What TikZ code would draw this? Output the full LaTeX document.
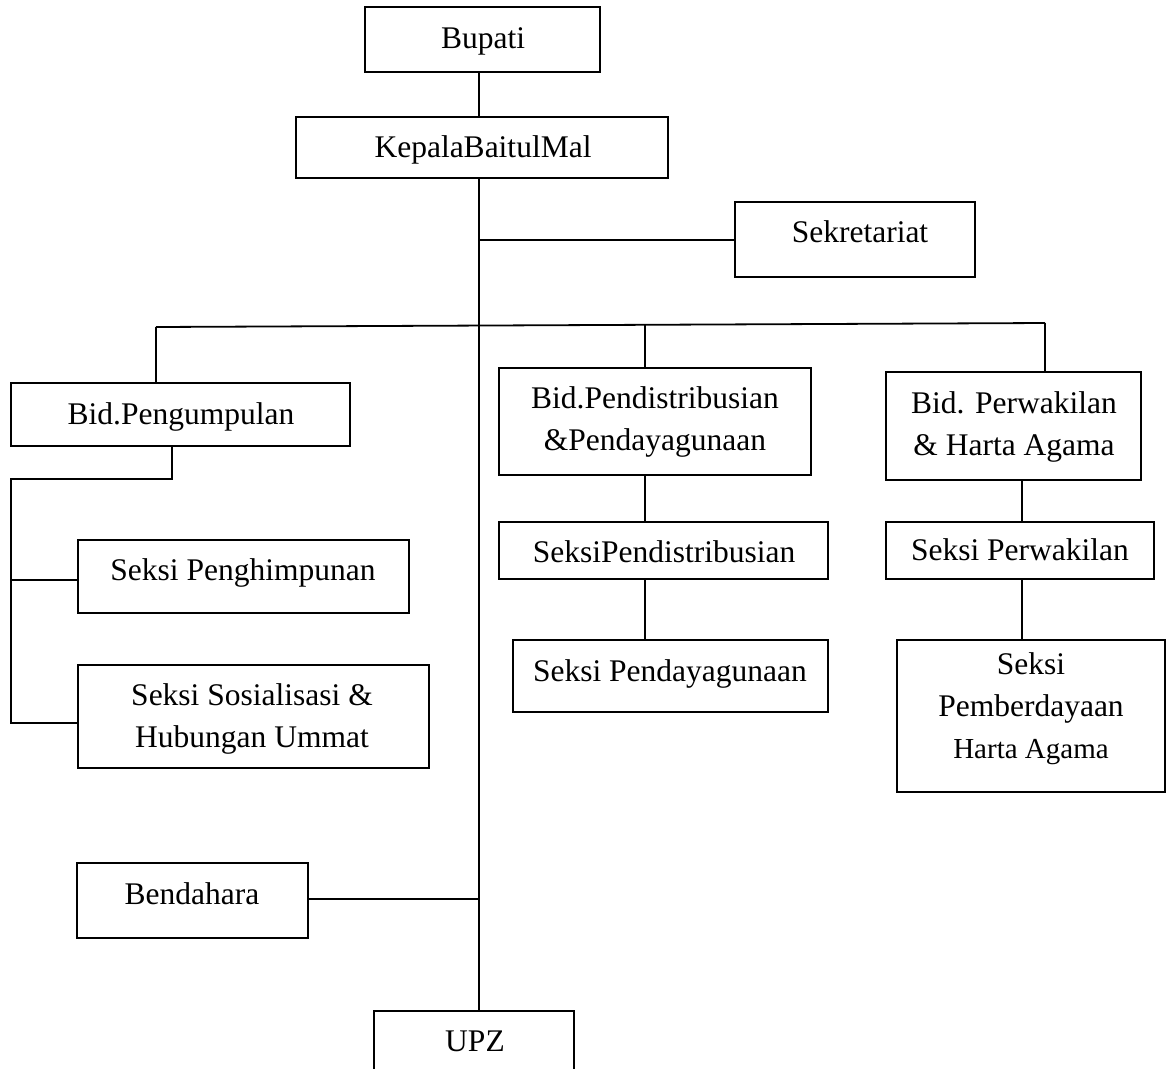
\documentclass[tikz,border=0pt]{standalone}
\usepackage{fontspec}
\setmainfont{Liberation Serif}
\begin{document}
\begin{tikzpicture}[x=1pt,y=-1pt,
  box/.style={draw, line width=2pt, inner sep=0pt, outer sep=0pt, anchor=north west},
  lbl/.style={anchor=base, inner sep=0pt, outer sep=0pt, align=center, font=\fontsize{31.5}{42}\selectfont},
  conn/.style={line width=1.8pt}]
\useasboundingbox (0,0) rectangle (1171,1069);

% boxes
\node[box, minimum width=235pt, minimum height=65pt] (bupati) at (365,7) {};
\node[box, minimum width=372pt, minimum height=61pt] (kepala) at (296,117) {};
\node[box, minimum width=240pt, minimum height=75pt] (sekret) at (735,202) {};
\node[box, minimum width=339pt, minimum height=63pt] (bidpeng) at (11,383) {};
\node[box, minimum width=312pt, minimum height=107pt] (bidpend) at (499,368) {};
\node[box, minimum width=255pt, minimum height=108pt] (bidperw) at (886,372) {};
\node[box, minimum width=331pt, minimum height=73pt] (shimp) at (78,540) {};
\node[box, minimum width=351pt, minimum height=103pt] (ssos) at (78,665) {};
\node[box, minimum width=329pt, minimum height=57pt] (spend) at (499,522) {};
\node[box, minimum width=315pt, minimum height=72pt] (sdaya) at (513,640) {};
\node[box, minimum width=268pt, minimum height=57pt] (sperw) at (886,522) {};
\node[box, minimum width=268pt, minimum height=152pt] (sberd) at (897,640) {};
\node[box, minimum width=231pt, minimum height=75pt] (bend) at (77,863) {};
\node[box, minimum width=200pt, minimum height=90pt] (upz) at (374,1011) {};

% texts (anchor base = baseline of the last line)
\node[lbl] (tbupati) at (483,48) {Bupati};
\node[lbl] (tkepala) at (483,157) {KepalaBaitulMal};
\node[lbl] (tsekret) at (860,242) {Sekretariat};
\node[lbl] (tbidpeng) at (181,424) {Bid.Pengumpulan};
\node[lbl] (tbidpend) at (655,450) {Bid.Pendistribusian\\\&Pendayagunaan};
\node[lbl] (tbidperw) at (1014,455) {Bid. Perwakilan\\\& Harta Agama};
\node[lbl] (tshimp) at (243,580) {Seksi Penghimpunan};
\node[lbl] (tssos) at (252,747) {Seksi Sosialisasi \&\\Hubungan Ummat};
\node[lbl] (tspend) at (664,562) {SeksiPendistribusian};
\node[lbl] (tsdaya) at (670,681) {Seksi Pendayagunaan};
\node[lbl] (tsperw) at (1020,560) {Seksi Perwakilan};
\node[lbl] (tsberd) at (1031,758) {Seksi\\Pemberdayaan\\{\fontsize{29}{40}\selectfont Harta Agama}};
\node[lbl] (tbend) at (192,904) {Bendahara};
\node[lbl] (tupz) at (475,1051) {UPZ};

% connector points
\coordinate (m1) at (479,240);
\coordinate (busL) at (156,327);
\coordinate (busR) at (1045,323);
\coordinate (busM) at (645,324.5);
\coordinate (pg1) at (172,479);
\coordinate (pg2) at (11,479);
\coordinate (pg3) at (11,723);
\coordinate (pgh) at (11,580);
\coordinate (mb) at (479,899);
\coordinate (pw) at (1022,0);

% connectors
\draw[conn] (bupati.south -| m1) -- (kepala.north -| m1);
\draw[conn] (kepala.south -| m1) -- (upz.north -| m1);
\draw[conn] (m1) -- (sekret.west |- m1);
\draw[conn] (busL) -- (busR);
\draw[conn] (busL) -- (bidpeng.north -| busL);
\draw[conn] (busM) -- (bidpend.north -| busM);
\draw[conn] (busR) -- (bidperw.north -| busR);
\draw[conn] (bidpeng.south -| pg1) -- (pg1) -- (pg2) -- (pg3) -- (ssos.west |- pg3);
\draw[conn] (pgh) -- (shimp.west |- pgh);
\draw[conn] (bidpend.south -| busM) -- (spend.north -| busM);
\draw[conn] (spend.south -| busM) -- (sdaya.north -| busM);
\draw[conn] (bidperw.south -| pw) -- (sperw.north -| pw);
\draw[conn] (sperw.south -| pw) -- (sberd.north -| pw);
\draw[conn] (bend.east |- mb) -- (mb);
\end{tikzpicture}
\end{document}
